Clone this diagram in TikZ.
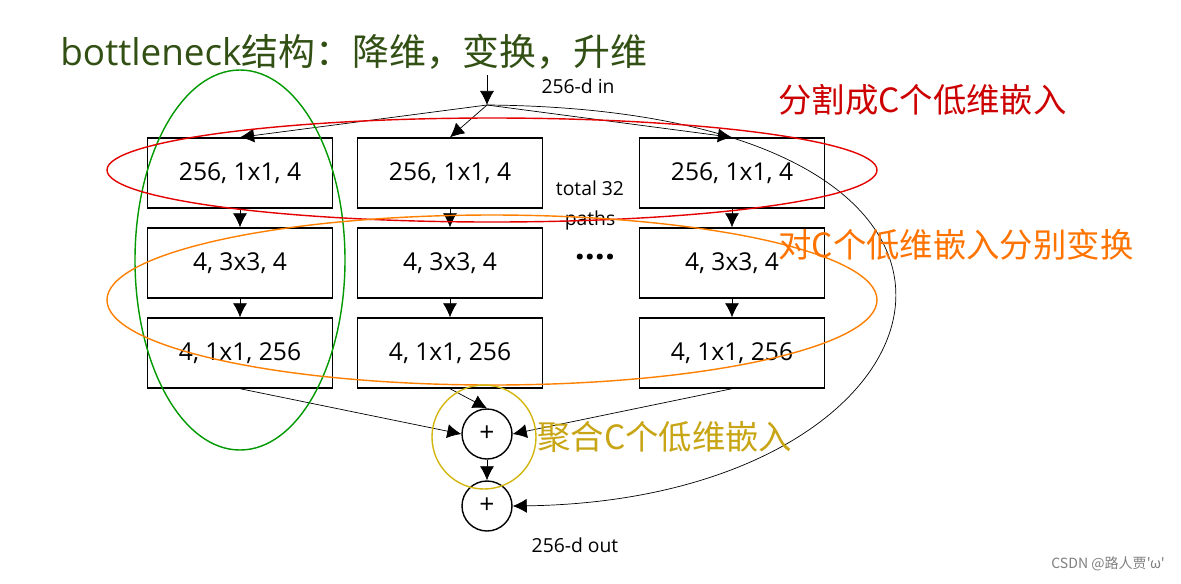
\documentclass[tikz,border=0pt]{standalone}
\usepackage{fontspec}
\setmainfont{Open Sans}
\newfontfamily\cjk{Noto Sans CJK SC}
\usetikzlibrary{arrows.meta}
\definecolor{gold}{RGB}{200,165,20}
\definecolor{dgreen}{RGB}{50,80,20}
\begin{document}
\begin{tikzpicture}[x=0.02cm,y=-0.02cm,
  blk/.style={draw,thick,minimum width=3.7cm,minimum height=1.4cm,inner sep=0pt,font=\fontsize{14}{16}\selectfont},
  pl/.style={draw,thick,circle,minimum size=1cm,inner sep=0pt,font=\fontsize{15}{16}\selectfont},
  arr/.style={-{Latex[length=8pt,width=8pt]},thin},
  lbl/.style={font=\fontsize{11}{13}\selectfont}]
\fill[white] (0,0) rectangle (1181,583);
\useasboundingbox (0,0) rectangle (1181,583);
\foreach \c/\x in {a/240,b/450,c/732}{
  \node[blk] (\c1) at (\x,173) {256, 1x1, 4};
  \node[blk] (\c2) at (\x,263) {4, 3x3, 4};
  \node[blk] (\c3) at (\x,353) {4, 1x1, 256};
  \draw[arr] (\c1) -- (\c2);
  \draw[arr] (\c2) -- (\c3);
}
\node[pl] (p1) at (487,434) {+};
\node[pl] (p2) at (487,506) {+};
\coordinate (top) at (487,75);
\coordinate (sp) at (487,105);
\draw[arr] (top) -- (sp);
\draw[arr] (sp) -- (a1.north);
\draw[arr] (sp) -- (b1.north);
\draw[arr] (sp) -- (c1.north);
\draw[arr] (sp) .. controls (1080,110) and (970,500) .. (p2.east);
\draw[arr] (a3.south) -- (p1.west);
\draw[arr] (b3.south) -- (p1.north);
\draw[arr] (c3.south) -- (p1.east);
\draw[arr] (p1) -- (p2);
\node[lbl] (in) at (578,86) {256-d in};
\node[lbl] (out) at (575,545) {256-d out};
\node[lbl] (t1) at (590,188) {total 32};
\node[lbl] (t2) at (590,220) {paths};
\node[font=\fontsize{20}{20}\selectfont\bfseries] (dots) at (595,257) {....};
\draw[green!50!black!80!green,thick] (240,260) ellipse [x radius=105,y radius=190];
\draw[red!90!black,thick] (492,170) ellipse [x radius=385,y radius=52];
\draw[orange,thick] (492,300) ellipse [x radius=385,y radius=85];
\draw[gold!80!yellow,thick] (484,437) circle [radius=52];
\node[anchor=west,inner sep=0pt,text=dgreen,font=\fontsize{21}{22}\selectfont] (title) at (60,52) {bottleneck{\cjk 结构：降维，变换，升维}};
\node[anchor=west,inner sep=0pt,text=red!80!black,font=\fontsize{19}{20}\selectfont\cjk] (r) at (778,100) {分割成C个低维嵌入};
\node[anchor=west,inner sep=0pt,text=orange!90!red,font=\fontsize{19}{20}\selectfont\cjk] (o) at (778,245) {对C个低维嵌入分别变换};
\node[anchor=west,inner sep=0pt,text=gold,font=\fontsize{19}{20}\selectfont\cjk] (y) at (537,437) {聚合C个低维嵌入};
\node[text=gray,font=\fontsize{8}{10}\selectfont\cjk] (w) at (1108,564) {CSDN @路人贾'ω'};
\end{tikzpicture}
\end{document}
